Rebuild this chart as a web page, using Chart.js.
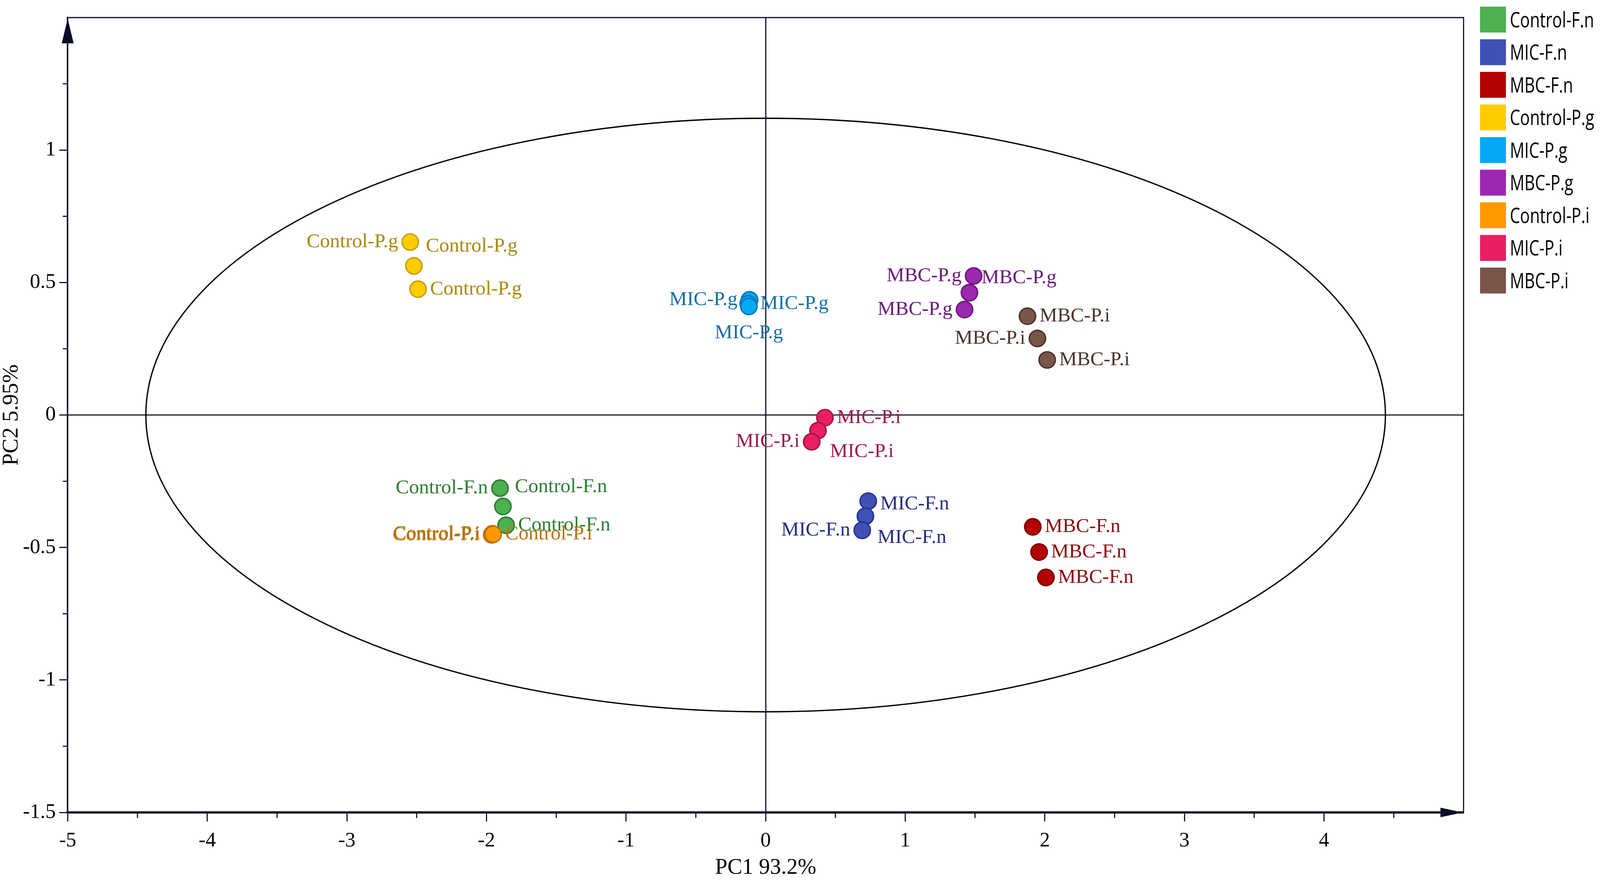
<!DOCTYPE html>
<html>
<head>
<meta charset="utf-8">
<style>
  html, body { margin: 0; padding: 0; background: #fff; overflow: hidden; }
  #wrap { width: 100vw; height: 100vh; position: relative; }
</style>
<script src="https://cdn.jsdelivr.net/npm/chart.js@4.4.1/dist/chart.umd.min.js"></script>
</head>
<body>
<div id="wrap"><canvas id="pca"></canvas></div>
<script>
// groups, three replicates each
const groups = ['Control-F.n', 'MIC-F.n', 'MBC-F.n', 'Control-P.g', 'MIC-P.g',
                'MBC-P.g', 'Control-P.i', 'MIC-P.i', 'MBC-P.i'];

// PC1 scores per group
const pc1 = [
  [-1.903, -1.882, -1.859],
  [0.735, 0.715, 0.692],
  [1.914, 1.959, 2.008],
  [-2.546, -2.520, -2.490],
  [-0.115, -0.125, -0.120],
  [1.490, 1.460, 1.425],
  [-1.957, -1.962, -1.952],
  [0.425, 0.375, 0.330],
  [1.876, 1.947, 2.017]
];

// PC2 scores per group
const pc2 = [
  [-0.276, -0.345, -0.416],
  [-0.325, -0.382, -0.435],
  [-0.422, -0.517, -0.613],
  [0.653, 0.563, 0.475],
  [0.435, 0.420, 0.410],
  [0.525, 0.462, 0.398],
  [-0.448, -0.452, -0.450],
  [-0.010, -0.059, -0.101],
  [0.373, 0.289, 0.208]
];

// confidence ellipse: centre and semi axes
const ellipseCenter = [0, 0];
const ellipseRadii = [4.44, 1.12];

const xTickLabels = ['-5', '-4', '-3', '-2', '-1', '0', '1', '2', '3', '4'];
const yTickLabels = ['-1.5', '-1', '-0.5', '0', '0.5', '1'];

// styles
const fillColors = ['#4caf50', '#3f51b5', '#b40000', '#ffcc00', '#03a9f4',
                    '#9c27b0', '#ff9800', '#e91e63', '#795548'];
const edgeColors = ['#2e7d32', '#283593', '#7a0000', '#c9a000', '#0277bd',
                    '#6a1b7a', '#b8730a', '#a0174a', '#4e342e'];
const textColors = ['#2e7d32', '#232e80', '#8b0a0a', '#a88a0c', '#1570a3',
                    '#6a1b7a', '#b8730a', '#9c1c48', '#4e342e'];
// where each point's label sits (l / r / b) and its vertical shift
const labelSide = [
  ['l', 'r', 'r'], ['r', 'r', 'l'], ['r', 'r', 'r'],
  ['l', 'r', 'r'], ['l', 'r', 'b'], ['l', 'r', 'l'],
  ['l', 'l', 'r'], ['r', 'r', 'l'], ['r', 'l', 'r']
];
const labelShift = [
  [0, -50, 0], [8, 55, 0], [0, 0, 0],
  [0, -50, 0], [0, 0, 68], [0, -38, 0],
  [0, 0, 0], [0, 54, 0], [0, 0, 0]
];

const axisColor = '#0a0a28';

// sizes were measured on a 4562 x 2258 picture; follow the window
const SX = window.innerWidth / 4562;
const SY = window.innerHeight / 2258;
const SF = Math.sqrt(SX * SY);
const sx = n => n * SX, sy = n => n * SY, sf = n => n * SF;

const datasets = groups.map((g, i) => ({
  label: g,
  data: pc1[i].map((v, j) => ({x: v, y: pc2[i][j]})),
  backgroundColor: fillColors[i],
  borderColor: edgeColors[i],
  borderWidth: sf(4),
  pointRadius: sf(22),
  pointHoverRadius: sf(22),
  order: groups.length - i
}));

const pcaDecor = {
  id: 'pcaDecor',
  beforeDatasetsDraw(chart) {
    const {ctx, scales: {x, y}} = chart;
    const cx = x.getPixelForValue(ellipseCenter[0]);
    const cy = y.getPixelForValue(ellipseCenter[1]);
    const rx = x.getPixelForValue(ellipseCenter[0] + ellipseRadii[0]) - cx;
    const ry = cy - y.getPixelForValue(ellipseCenter[1] + ellipseRadii[1]);
    ctx.save();
    ctx.beginPath();
    ctx.ellipse(cx, cy, rx, ry, 0, 0, Math.PI * 2);
    ctx.lineWidth = sf(3.5);
    ctx.strokeStyle = '#000';
    ctx.stroke();
    ctx.restore();
  },
  afterDatasetsDraw(chart) {
    const ctx = chart.ctx;
    const gap = sf(24) + sx(9);
    ctx.save();
    ctx.font = sf(54) + 'px "Liberation Serif"';
    ctx.textBaseline = 'middle';
    groups.forEach((g, i) => {
      const meta = chart.getDatasetMeta(i);
      meta.data.forEach((pt, j) => {
        const side = labelSide[i][j];
        const dy = sy(labelShift[i][j]);
        ctx.fillStyle = textColors[i];
        if (side === 'l') {
          ctx.textAlign = 'right';
          ctx.fillText(g, pt.x - gap, pt.y + dy);
        } else if (side === 'r') {
          ctx.textAlign = 'left';
          ctx.fillText(g, pt.x + gap, pt.y + dy);
        } else {
          ctx.textAlign = 'center';
          ctx.fillText(g, pt.x, pt.y + dy);
        }
      });
    });
    ctx.restore();
  },
  afterDraw(chart) {
    const {ctx, chartArea: a, scales: {x, y}} = chart;
    ctx.save();
    ctx.strokeStyle = axisColor;
    ctx.fillStyle = axisColor;
    ctx.lineWidth = sf(3);

    // minor ticks
    ctx.beginPath();
    x.ticks.forEach(t => {
      if (!Number.isInteger(t.value)) {
        const p = x.getPixelForValue(t.value);
        ctx.moveTo(p, a.bottom);
        ctx.lineTo(p, a.bottom + sy(14));
      }
    });
    y.ticks.forEach(t => {
      if (t.value % 0.5 !== 0) {
        const p = y.getPixelForValue(t.value);
        ctx.moveTo(a.left - sx(14), p);
        ctx.lineTo(a.left, p);
      }
    });
    ctx.stroke();

    // top and right frame
    ctx.beginPath();
    ctx.moveTo(a.left, a.top);
    ctx.lineTo(a.right, a.top);
    ctx.lineTo(a.right, a.bottom);
    ctx.stroke();

    // arrow heads
    ctx.beginPath();
    ctx.moveTo(a.left, a.top + sy(2));
    ctx.lineTo(a.left - sf(16), a.top + sy(66));
    ctx.lineTo(a.left + sf(16), a.top + sy(66));
    ctx.closePath();
    ctx.fill();
    ctx.beginPath();
    ctx.moveTo(a.right - sx(2), a.bottom);
    ctx.lineTo(a.right - sx(66), a.bottom - sf(13));
    ctx.lineTo(a.right - sx(66), a.bottom + sf(13));
    ctx.closePath();
    ctx.fill();

    // legend
    const box = sf(70);
    groups.forEach((g, i) => {
      const top = sy(17 + i * 83.5);
      ctx.fillStyle = fillColors[i];
      ctx.fillRect(sx(4220), top, box, box);
      ctx.save();
      ctx.fillStyle = '#000';
      ctx.font = sf(58) + 'px "Open Sans"';
      ctx.textBaseline = 'middle';
      ctx.textAlign = 'left';
      ctx.translate(sx(4220) + box + sx(11), top + box / 2 + sf(4));
      ctx.scale(0.8 * SX / SF, 1);
      ctx.fillText(g, 0, 0);
      ctx.restore();
    });
    ctx.restore();
  }
};

Chart.defaults.font.family = '"Liberation Serif", "Times New Roman", serif';
Chart.defaults.color = '#000';

new Chart(document.getElementById('pca'), {
  type: 'scatter',
  data: {datasets},
  options: {
    responsive: true,
    maintainAspectRatio: false,
    animation: false,
    events: [],
    layout: {padding: {left: 0, top: sy(45), right: sx(389), bottom: 0}},
    plugins: {
      legend: {display: false},
      tooltip: {enabled: false}
    },
    scales: {
      x: {
        type: 'linear',
        min: -5,
        max: 5,
        afterFit(scale) { scale.height = sy(178); },
        ticks: {
          stepSize: 0.5,
          autoSkip: false,
          maxRotation: 0,
          padding: Math.max(0, sy(30) - sf(12)),
          font: {size: sf(56)},
          callback: v => xTickLabels.includes(String(v)) ? String(v) : ''
        },
        grid: {
          drawOnChartArea: true,
          color: c => (c.tick && c.tick.value === 0) ? axisColor : 'transparent',
          lineWidth: sf(3),
          tickLength: sy(23),
          tickWidth: sf(3),
          tickColor: c => (c.tick && xTickLabels.includes(String(c.tick.value))) ? axisColor : 'transparent'
        },
        border: {display: true, color: axisColor, width: sf(6)},
        title: {
          display: true,
          text: 'PC1 93.2%',
          font: {size: sf(60), lineHeight: 1.2},
          padding: {top: 0, bottom: Math.max(0, sy(36) - sf(36))}
        }
      },
      y: {
        type: 'linear',
        min: -1.5,
        max: 1.5,
        afterFit(scale) { scale.width = sx(193); },
        ticks: {
          stepSize: 0.25,
          autoSkip: false,
          padding: sx(10),
          font: {size: sf(56)},
          callback: v => yTickLabels.includes(String(v)) ? String(v) : ''
        },
        grid: {
          drawOnChartArea: true,
          color: c => (c.tick && c.tick.value === 0) ? axisColor : 'transparent',
          lineWidth: sf(3),
          tickLength: sx(24),
          tickWidth: sf(3),
          tickColor: c => (c.tick && yTickLabels.includes(String(c.tick.value))) ? axisColor : 'transparent'
        },
        border: {display: true, color: axisColor, width: sf(4)},
        title: {
          display: true,
          text: 'PC2 5.95%',
          font: {size: sf(60), lineHeight: 1},
          padding: {top: Math.max(0, sx(33) - sf(30)), bottom: 0}
        }
      }
    }
  },
  plugins: [pcaDecor]
});
</script>
</body>
</html>
